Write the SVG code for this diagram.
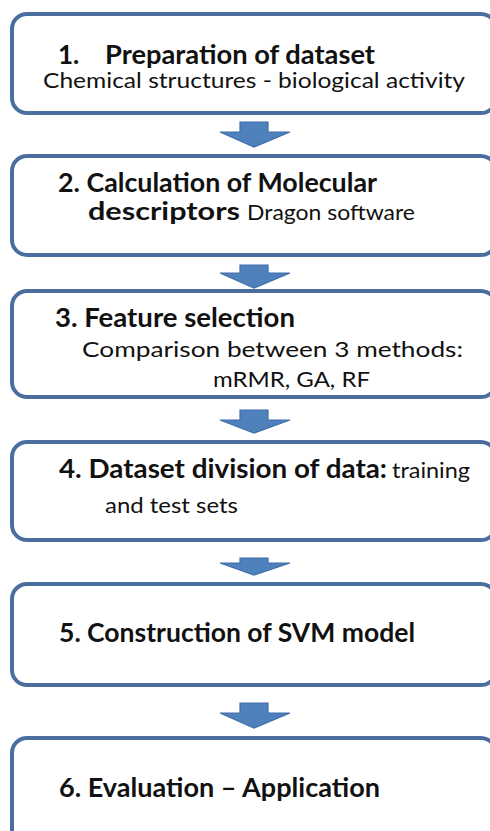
<svg xmlns="http://www.w3.org/2000/svg" width="490" height="831" viewBox="0 0 490 831">
<style>
.box{fill:#ffffff;stroke:#4a6f9f;stroke-width:4}
.arr{fill:#4f81bd;stroke:#3f6ea8;stroke-width:1.2}
.b{font-family:Lato,"Open Sans","Liberation Sans",sans-serif;font-weight:bold;font-size:26px;fill:#111}
.r{font-family:Lato,"Open Sans","Liberation Sans",sans-serif;font-size:21px;fill:#111}
</style>
<rect width="490" height="831" fill="#ffffff"/>
<g id="connectors">
<path class="arr" d="M240,122 H268 V132 H290 L254,147 L220,132 H240 Z"/>
<path class="arr" d="M240,265 H268 V273 H290 L254,288 L220,273 H240 Z"/>
<path class="arr" d="M240,410 H268 V420 H290 L254,433 L220,420 H240 Z"/>
<path class="arr" d="M240,558 H268 V563 H290 L254,575 L220,563 H240 Z"/>
<path class="arr" d="M240,703 H268 V713 H290 L254,728 L220,713 H240 Z"/>
</g>
<g id="n1">
<rect class="box" x="12" y="14" width="484" height="99" rx="15"/>
<text class="b" x="58" y="64">1.</text>
<text class="b" x="105" y="64" textLength="270" lengthAdjust="spacingAndGlyphs">Preparation of dataset</text>
<text class="r" x="43" y="88" textLength="422" lengthAdjust="spacingAndGlyphs">Chemical structures - biological activity</text>
</g>
<g id="n2">
<rect class="box" x="12" y="156" width="484" height="99" rx="15"/>
<text class="b" x="58" y="192" textLength="319" lengthAdjust="spacingAndGlyphs">2. Calculation of Molecular</text>
<text class="b" x="88" y="220" textLength="152" lengthAdjust="spacingAndGlyphs" style="font-size:24px">descriptors</text>
<text class="r" x="247" y="220" textLength="168" lengthAdjust="spacingAndGlyphs">Dragon software</text>
</g>
<g id="n3">
<rect class="box" x="12" y="291" width="484" height="106" rx="15"/>
<text class="b" x="55" y="327" textLength="240" lengthAdjust="spacingAndGlyphs">3. Feature selection</text>
<text class="r" x="82" y="357" textLength="381" lengthAdjust="spacingAndGlyphs">Comparison between 3 methods:</text>
<text class="r" x="213" y="387" textLength="157" lengthAdjust="spacingAndGlyphs">mRMR, GA, RF</text>
</g>
<g id="n4">
<rect class="box" x="12" y="442" width="484" height="98" rx="15"/>
<text class="b" x="59" y="478" textLength="328" lengthAdjust="spacingAndGlyphs">4. Dataset division of data:</text>
<text class="r" x="392" y="478" textLength="78" lengthAdjust="spacingAndGlyphs">training</text>
<text class="r" x="105" y="513" textLength="133" lengthAdjust="spacingAndGlyphs">and test sets</text>
</g>
<g id="n5">
<rect class="box" x="12" y="584" width="484" height="101" rx="15"/>
<text class="b" x="59" y="642" textLength="356" lengthAdjust="spacingAndGlyphs">5. Construction of SVM model</text>
</g>
<g id="n6">
<rect class="box" x="12" y="738" width="484" height="120" rx="15"/>
<text class="b" x="59" y="797" textLength="321" lengthAdjust="spacingAndGlyphs">6. Evaluation – Application</text>
</g>
</svg>
